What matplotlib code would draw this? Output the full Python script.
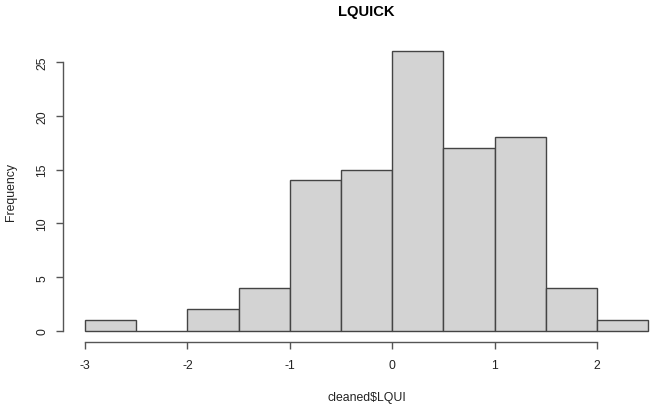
import matplotlib
matplotlib.use("Agg")
import matplotlib.pyplot as plt

plt.rcParams['font.family'] = ['Liberation Sans', 'DejaVu Sans']

# histogram bins (width 0.5) and counts
bin_edges = [-3.0, -2.5, -2.0, -1.5, -1.0, -0.5, 0.0, 0.5, 1.0, 1.5, 2.0, 2.5]
counts = [1, 0, 2, 4, 14, 15, 26, 17, 18, 4, 1]
x_ticks = [-3, -2, -1, 0, 1, 2]
y_ticks = [0, 5, 10, 15, 20, 25]

W, H = 651, 406
fig = plt.figure(figsize=(W / 100, H / 100), dpi=100)
# R-style plot region, a bit wider than the (cropped) image
left, right, top, bottom = 62.5, 670.8, 41.0, 343.2
ax = fig.add_axes([left / W, 1 - bottom / H, (right - left) / W, (bottom - top) / H])

widths = [b - a for a, b in zip(bin_edges[:-1], bin_edges[1:])]
ax.bar(bin_edges[:-1], counts, width=widths, align='edge',
       facecolor='#d3d3d3', edgecolor='#444444', linewidth=1.0)

ax.set_xlim(-3.22, 2.72)
ax.set_ylim(-1.04, 27.04)

for s in ['top', 'right']:
    ax.spines[s].set_visible(False)
ax.spines['left'].set_bounds(0, 25)
ax.spines['bottom'].set_bounds(-3, 2)
for s in ['left', 'bottom']:
    ax.spines[s].set_color('#555555')
    ax.spines[s].set_linewidth(1.0)

ax.set_xticks(x_ticks)
ax.set_xticklabels([str(v) for v in x_ticks])
ax.set_yticks(y_ticks)
ax.set_yticklabels([str(v) for v in y_ticks], rotation=90, va='center')
ax.tick_params(axis='both', length=5, width=1.0, color='#555555',
               labelsize=8.8, labelcolor='#222222')
ax.tick_params(axis='x', pad=7)
ax.tick_params(axis='y', pad=5)

# title and axis labels placed like R's margin text
fig.text(366 / W, 1 - 12 / H, 'LQUICK', fontsize=10.6, fontweight='bold',
         ha='center', va='center')
fig.text(367 / W, 1 - 398 / H, 'cleaned$LQUI', fontsize=8.8, color='#222222',
         ha='center', va='center')
fig.text(11 / W, 1 - 192 / H, 'Frequency', fontsize=8.8, color='#222222',
         rotation=90, ha='center', va='center')

fig.savefig('out.png', dpi=100)
